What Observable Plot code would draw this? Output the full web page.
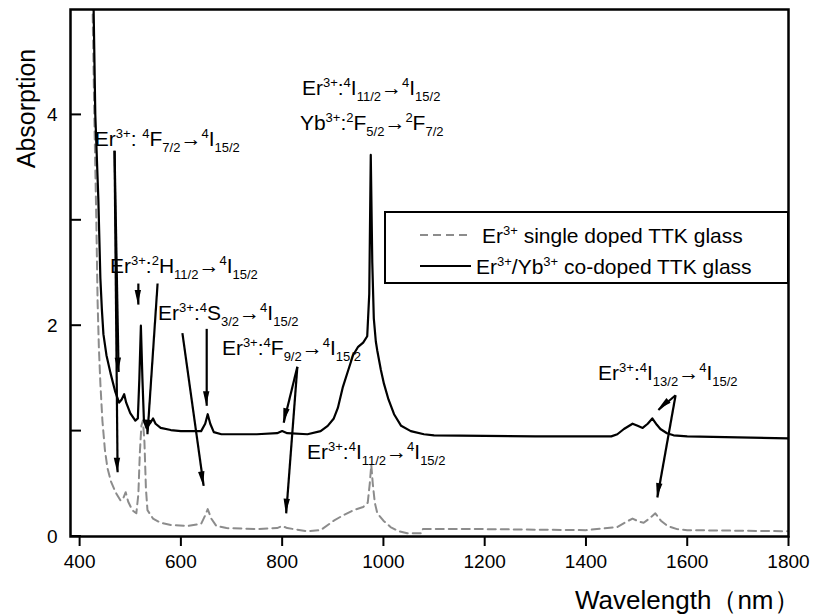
<!DOCTYPE html>
<html>
<head>
<meta charset="utf-8">
<script src="https://cdn.jsdelivr.net/npm/d3@7"></script>
<script src="https://cdn.jsdelivr.net/npm/@observablehq/plot@0.6"></script>
<style>
  html, body { margin: 0; padding: 0; background: #fff; }
</style>
</head>
<body>
<div id="chart"></div>
<script>
const FONT = "'Liberation Sans', Arial, Helvetica, sans-serif";

// Absorption spectra: [wavelength (nm), absorption]
const erSingle = [
  [425,5.2],[429,4.0],[433,3.0],[435.5,2.23],[438,1.8],[441,1.45],[445,1.1],[450,0.82],[455,0.65],
  [462,0.52],[471,0.42],[481,0.34],[486,0.36],[491,0.42],[496,0.33],[504,0.25],[512,0.22],[516,0.4],
  [519,0.8],[522,1.05],[525,1.1],[528,0.9],[531,0.45],[534,0.25],[545,0.17],[560,0.13],[580,0.11],
  [613,0.1],[640,0.12],[648,0.2],[653,0.26],[660,0.17],[670,0.1],[690,0.08],[750,0.07],[790,0.08],
  [800,0.1],[810,0.08],[850,0.05],[876,0.06],[902,0.15],[920,0.2],[941,0.25],[960,0.28],[969,0.32],
  [973,0.5],[976,0.68],[979,0.5],[983,0.32],[988,0.22],[1000,0.15],[1014,0.09],[1030,0.05],[1047,0.03],
  [1075,0.03],[1078,0.07],[1200,0.07],[1400,0.06],[1462,0.09],[1480,0.14],[1492,0.17],[1505,0.14],
  [1514,0.13],[1525,0.17],[1537,0.22],[1548,0.15],[1561,0.1],[1580,0.07],[1600,0.06],[1800,0.05]
];

const erYbCodoped = [
  [427,5.2],[431,4.0],[437,3.2],[441,2.45],[444,2.15],[447,1.92],[453,1.72],[461,1.55],[470,1.38],
  [478,1.27],[483,1.3],[488,1.35],[492,1.27],[500,1.17],[510,1.1],[515,1.12],[518,1.5],[521,2.0],
  [524,1.5],[527,1.1],[532,1.03],[540,1.08],[545,1.12],[550,1.07],[560,1.03],[580,1.01],[600,1.0],
  [640,1.0],[648,1.07],[653,1.16],[658,1.07],[665,0.99],[680,0.97],[750,0.97],[790,0.98],[800,1.0],
  [810,0.98],[850,0.97],[876,1.0],[890,1.05],[902,1.12],[910,1.22],[920,1.42],[930,1.57],[940,1.72],
  [950,1.8],[960,1.84],[968,1.9],[972,2.3],[975,3.62],[978,2.6],[981,2.07],[985,1.85],[988,1.76],
  [995,1.58],[1001,1.45],[1010,1.3],[1021,1.16],[1035,1.05],[1054,1.0],[1080,0.97],[1100,0.96],
  [1300,0.95],[1450,0.95],[1462,0.97],[1475,1.02],[1492,1.07],[1502,1.05],[1512,1.03],[1522,1.07],
  [1531,1.12],[1540,1.06],[1547,1.02],[1560,0.98],[1573,0.96],[1600,0.95],[1700,0.94],[1800,0.93]
];

const xTicks = [400, 600, 800, 1000, 1200, 1400, 1600, 1800];
const yTickLabels = [0, 2, 4];
const yTickMarks = [0, 1, 2, 3, 4];

const seriesNames = ["Er^{3+} single doped TTK glass", "Er^{3+}/Yb^{3+} co-doped TTK glass"];

// Transition labels: text (^{} superscript, _{} subscript), anchor at wavelength / absorption
const transitions = [
  {text: "Er^{3+}: ^{4}F_{7/2}→^{4}I_{15/2}", x: 431, y: 3.70},
  {text: "Er^{3+}:^{2}H_{11/2}→^{4}I_{15/2}", x: 461, y: 2.50},
  {text: "Er^{3+}:^{4}S_{3/2}→^{4}I_{15/2}", x: 556, y: 2.05},
  {text: "Er^{3+}:^{4}F_{9/2}→^{4}I_{15/2}", x: 682, y: 1.72},
  {text: "Er^{3+}:^{4}I_{11/2}→^{4}I_{15/2}", x: 840, y: 4.18},
  {text: "Yb^{3+}:^{2}F_{5/2}→^{2}F_{7/2}", x: 836, y: 3.85},
  {text: "Er^{3+}:^{4}I_{11/2}→^{4}I_{15/2}", x: 850, y: 0.73},
  {text: "Er^{3+}:^{4}I_{13/2}→^{4}I_{15/2}", x: 1425, y: 1.48}
];

// Pointer arrows from the labels to the bands
const pointers = [
  {x1: 469, y1: 3.66, x2: 477, y2: 1.56},
  {x1: 469, y1: 3.66, x2: 475, y2: 0.61},
  {x1: 516, y1: 2.40, x2: 516, y2: 2.20},
  {x1: 554, y1: 2.40, x2: 534, y2: 0.97},
  {x1: 603, y1: 1.93, x2: 645, y2: 0.48},
  {x1: 651, y1: 1.97, x2: 651, y2: 1.24},
  {x1: 830, y1: 1.61, x2: 803, y2: 1.08},
  {x1: 830, y1: 1.61, x2: 808, y2: 0.22},
  {x1: 1577, y1: 1.34, x2: 1543, y2: 1.20},
  {x1: 1577, y1: 1.34, x2: 1541, y2: 0.37}
];

// Append a text element whose ^{...} / _{...} parts become raised / lowered tspans
function appendRich(g, x, y, str, size) {
  const small = Math.round(size * 0.62);
  const t = g.append("text").attr("x", x).attr("y", y).attr("font-size", size)
    .attr("text-anchor", "start");
  let shift = 0;
  for (const m of str.matchAll(/\^\{([^}]*)\}|_\{([^}]*)\}|([^^_]+)/g)) {
    let target = 0, fs = size, s;
    if (m[1] != null) { target = -Math.round(size * 0.4); fs = small; s = m[1]; }
    else if (m[2] != null) { target = Math.round(size * 0.28); fs = small; s = m[2]; }
    else { s = m[3]; }
    t.append("tspan").attr("dy", target - shift).attr("font-size", fs).text(s);
    shift = target;
  }
  return t;
}

const richLabelsMark = (index, scales) => {
  const g = d3.create("svg:g").attr("font-family", FONT).attr("fill", "black")
    .attr("text-anchor", "start");
  for (const d of transitions) appendRich(g, scales.x(d.x), scales.y(d.y), d.text, 21);
  return g.node();
};

const arrowHeadsMark = (index, scales) => {
  const g = d3.create("svg:g").attr("fill", "black");
  const L = 14, W = 3.2;
  for (const d of pointers) {
    const ax = scales.x(d.x1), ay = scales.y(d.y1), bx = scales.x(d.x2), by = scales.y(d.y2);
    const len = Math.hypot(bx - ax, by - ay), ux = (bx - ax) / len, uy = (by - ay) / len;
    const cx = bx - ux * L, cy = by - uy * L;
    g.append("path").attr("d",
      `M${bx},${by}L${cx - uy * W},${cy + ux * W}L${cx + uy * W},${cy - ux * W}Z`);
  }
  return g.node();
};

// Short y ticks pointing into the plotting area
const innerYTicksMark = (index, scales, values, dims) => {
  const g = d3.create("svg:g").attr("stroke", "black").attr("stroke-width", 2);
  for (const v of yTickMarks) {
    const y = scales.y(v);
    g.append("line").attr("x1", dims.marginLeft).attr("x2", dims.marginLeft + 11)
      .attr("y1", y).attr("y2", y);
  }
  return g.node();
};

const legendMark = (index, scales, values, dims) => {
  const right = dims.width - dims.marginRight;
  const g = d3.create("svg:g").attr("font-family", FONT).attr("text-anchor", "start");
  g.append("rect").attr("x", 385).attr("y", 212).attr("width", right - 385).attr("height", 71)
    .attr("fill", "white").attr("stroke", "black").attr("stroke-width", 2);
  g.append("line").attr("x1", 420).attr("x2", 468).attr("y1", 235).attr("y2", 235)
    .attr("stroke", "#8c8c8c").attr("stroke-width", 2).attr("stroke-dasharray", "8,5");
  g.append("line").attr("x1", 420).attr("x2", 471).attr("y1", 266).attr("y2", 266)
    .attr("stroke", "black").attr("stroke-width", 2.2);
  appendRich(g, 482, 243, seriesNames[0], 21);
  appendRich(g, 476, 274, seriesNames[1], 21);
  return g.node();
};

const chart = Plot.plot({
  width: 813,
  height: 616,
  marginLeft: 70,
  marginRight: 25,
  marginTop: 9,
  marginBottom: 80,
  style: {fontFamily: FONT, fontSize: "19px", color: "black", background: "white", overflow: "visible"},
  x: {domain: [382, 1800]},
  y: {domain: [0, 5]},
  marks: [
    Plot.line(erSingle, {x: d => d[0], y: d => d[1], stroke: "#8c8c8c", strokeWidth: 2,
      strokeDasharray: "8,5", clip: true}),
    Plot.line(erYbCodoped, {x: d => d[0], y: d => d[1], stroke: "black", strokeWidth: 2.2, clip: true}),
    Plot.link(pointers, {x1: "x1", y1: "y1", x2: "x2", y2: "y2", stroke: "black", strokeWidth: 2.2}),
    arrowHeadsMark,
    richLabelsMark,
    legendMark,
    Plot.frame({stroke: "black", strokeWidth: 2.5}),
    innerYTicksMark,
    Plot.axisX(xTicks, {tickSize: 10, tickPadding: 8, strokeWidth: 2, label: null, fontSize: 19,
      tickFormat: d => String(d)}),
    Plot.axisY(yTickLabels, {tickSize: 0, tickPadding: 13, label: null, fontSize: 19,
      tickFormat: d => String(d)}),
    Plot.text(["Absorption"], {frameAnchor: "top-left", textAnchor: "middle", lineAnchor: "middle",
      dx: -44, dy: 99, rotate: -90, fontSize: 25}),
    Plot.text(["Wavelength（nm）"], {frameAnchor: "bottom-right", textAnchor: "end", lineAnchor: "bottom",
      dx: 11, dy: 72, fontSize: 26})
  ]
});

document.getElementById("chart").appendChild(chart);
</script>
</body>
</html>
